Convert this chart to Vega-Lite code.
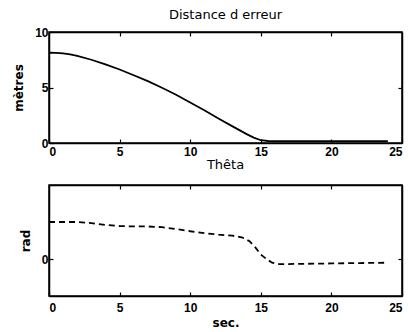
{
  "$schema": "https://vega.github.io/schema/vega-lite/v6.json",
  "background": "white",
  "padding": {"left": 11, "top": 8, "right": 5, "bottom": 5},
  "bounds": "flush",
  "spacing": 42,
  "config": {
    "font": "DejaVu Sans",
    "view": {"stroke": "black", "strokeWidth": 1.5},
    "axis": {
      "domainColor": "black", "domainWidth": 1.5,
      "tickColor": "black", "tickSize": -4, "tickWidth": 1.2,
      "labelColor": "black", "labelFont": "Liberation Sans", "labelFontSize": 12, "labelFontWeight": "bold",
      "titleColor": "black", "titleFont": "DejaVu Sans", "titleFontSize": 12, "titleFontWeight": "bold",
      "grid": false
    },
    "title": {"font": "DejaVu Sans", "fontSize": 13, "fontWeight": "normal", "color": "black"}
  },
  "datasets": {
    "dist": [
      {"t": 0, "v": 8.13}, {"t": 0.5, "v": 8.12}, {"t": 1, "v": 8.08}, {"t": 1.5, "v": 7.98}, {"t": 2, "v": 7.85},
      {"t": 3, "v": 7.5}, {"t": 4, "v": 7.08}, {"t": 5, "v": 6.62}, {"t": 6, "v": 6.1}, {"t": 7, "v": 5.58},
      {"t": 8, "v": 4.98}, {"t": 9, "v": 4.35}, {"t": 10, "v": 3.65}, {"t": 11, "v": 2.95}, {"t": 12, "v": 2.2},
      {"t": 13, "v": 1.5}, {"t": 14, "v": 0.8}, {"t": 14.5, "v": 0.48}, {"t": 15, "v": 0.25}, {"t": 15.5, "v": 0.18},
      {"t": 16, "v": 0.17}, {"t": 18, "v": 0.17}, {"t": 20, "v": 0.17}, {"t": 22, "v": 0.17}, {"t": 24, "v": 0.17}
    ],
    "theta": [
      {"t": 0, "v": 1.0}, {"t": 1, "v": 1.0}, {"t": 2, "v": 1.0}, {"t": 3, "v": 0.97}, {"t": 4, "v": 0.92},
      {"t": 5, "v": 0.89}, {"t": 6, "v": 0.88}, {"t": 7, "v": 0.88}, {"t": 8, "v": 0.86}, {"t": 9, "v": 0.81},
      {"t": 10, "v": 0.75}, {"t": 11, "v": 0.7}, {"t": 12, "v": 0.66}, {"t": 13, "v": 0.63}, {"t": 13.7, "v": 0.58},
      {"t": 14.2, "v": 0.48}, {"t": 14.6, "v": 0.32}, {"t": 15, "v": 0.12}, {"t": 15.4, "v": 0.0}, {"t": 15.8, "v": -0.1},
      {"t": 16.3, "v": -0.14}, {"t": 18, "v": -0.13}, {"t": 20, "v": -0.12}, {"t": 22, "v": -0.11}, {"t": 24, "v": -0.1}
    ]
  },
  "vconcat": [
    {
      "width": 353, "height": 111,
      "title": {"text": "Distance d erreur", "offset": 4},
      "data": {"name": "dist"},
      "layer": [
        {
          "mark": {"type": "line", "color": "black", "strokeWidth": 1.8},
          "encoding": {
            "x": {"field": "t", "type": "quantitative", "scale": {"domain": [0, 25], "nice": false},
                  "axis": {"orient": "bottom", "values": [0, 5, 10, 15, 20, 25], "title": null, "labelPadding": 7}},
            "y": {"field": "v", "type": "quantitative", "scale": {"domain": [0, 10], "nice": false},
                  "axis": {"orient": "left", "values": [0, 5, 10], "title": "mètres", "labelPadding": 5, "titlePadding": 9}}
          }
        },
        {
          "mark": {"type": "line", "opacity": 0},
          "encoding": {
            "x": {"field": "t", "type": "quantitative",
                  "axis": {"orient": "top", "values": [5, 10, 15, 20], "labels": false, "title": null}},
            "y": {"field": "v", "type": "quantitative",
                  "axis": {"orient": "right", "values": [5], "labels": false, "title": null}}
          }
        }
      ],
      "resolve": {"axis": {"x": "independent", "y": "independent"}}
    },
    {
      "width": 353, "height": 111,
      "title": {"text": "Thêta", "offset": 12},
      "data": {"name": "theta"},
      "layer": [
        {
          "mark": {"type": "line", "color": "black", "strokeWidth": 1.8, "strokeDash": [6, 4]},
          "encoding": {
            "x": {"field": "t", "type": "quantitative", "scale": {"domain": [0, 25], "nice": false},
                  "axis": {"orient": "bottom", "values": [0, 5, 10, 15, 20, 25], "title": "sec.", "labelPadding": 10, "titlePadding": 4}},
            "y": {"field": "v", "type": "quantitative", "scale": {"domain": [-1, 2], "nice": false},
                  "axis": {"orient": "left", "values": [0], "title": "rad", "labelPadding": 5, "titlePadding": 9}}
          }
        },
        {
          "mark": {"type": "line", "opacity": 0},
          "encoding": {
            "x": {"field": "t", "type": "quantitative",
                  "axis": {"orient": "top", "values": [5, 10, 15, 20], "labels": false, "title": null}},
            "y": {"field": "v", "type": "quantitative",
                  "axis": {"orient": "right", "values": [0], "labels": false, "title": null}}
          }
        }
      ],
      "resolve": {"axis": {"x": "independent", "y": "independent"}}
    }
  ]
}
